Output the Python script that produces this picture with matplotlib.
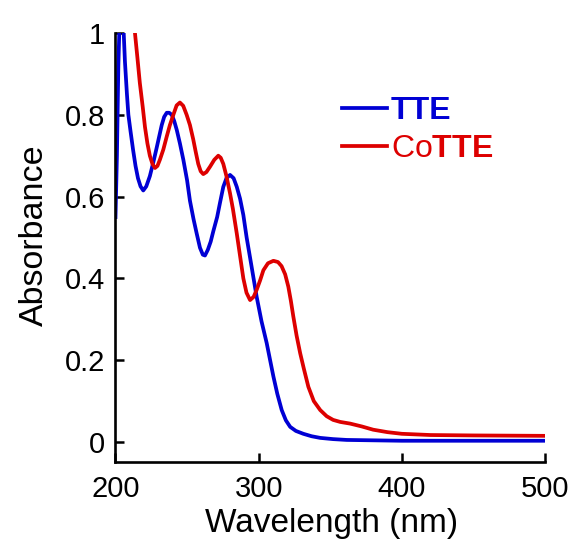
import matplotlib
matplotlib.use("Agg")
import matplotlib.pyplot as plt

plt.rcParams['font.family'] = ['Liberation Sans', 'DejaVu Sans']
plt.rcParams['mathtext.fontset'] = 'custom'
plt.rcParams['mathtext.rm'] = 'Liberation Sans'
plt.rcParams['mathtext.bf'] = 'Liberation Sans:bold'

# TTE spectrum (wavelength nm, absorbance)
tte_wl = [200, 201, 202, 202.8, 205.5, 206.6, 208, 209, 210.5, 212.3, 214, 215.7,
          217.5, 219.4, 221.5, 224, 226.5, 228.8, 232.3, 234, 235.8, 237.5, 239.3,
          241, 242.8, 245, 247.4, 250, 252, 254.5, 256.7, 259, 261, 262.5, 264.5,
          266.5, 268.3, 271, 273, 275.3, 277.5, 280, 282.5, 284.7, 287, 289.3, 291.6,
          295, 298.6, 302, 305.6, 308, 310.3, 313, 316.1, 319, 322, 326, 331.2, 337,
          343, 352, 361.5, 400, 500]
tte_abs = [0.55, 0.70, 0.92, 1.02, 1.02, 0.93, 0.85, 0.80, 0.76, 0.714, 0.675, 0.645,
           0.625, 0.615, 0.625, 0.65, 0.685, 0.72, 0.775, 0.795, 0.805, 0.805, 0.80,
           0.785, 0.763, 0.73, 0.69, 0.64, 0.59, 0.545, 0.51, 0.475, 0.458, 0.456,
           0.47, 0.49, 0.515, 0.55, 0.585, 0.624, 0.645, 0.653, 0.645, 0.624, 0.595,
           0.555, 0.50, 0.43, 0.355, 0.295, 0.242, 0.20, 0.16, 0.118, 0.078, 0.053,
           0.037, 0.027, 0.02, 0.014, 0.01, 0.007, 0.005, 0.003, 0.003]

# CoTTE spectrum
cotte_wl = [211.5, 213.6, 215.3, 217, 219, 220.6, 222.3, 224, 225.8, 227.6, 229.3, 231,
            233.4, 235.8, 238, 240.4, 242.7, 245, 247.3, 249.7, 252, 254.3, 256, 257.8,
            259.5, 261.3, 263.5, 266, 269, 271.8, 273.5, 275.3, 277.5, 280, 282, 284.7,
            287, 289.3, 291.5, 294, 296.5, 298.6, 301, 303.3, 306.5, 310.3, 313.5, 316,
            318.5, 320.7, 322.5, 324.2, 326.5, 329, 331.5, 334.7, 338.5, 343, 347.5,
            352, 357, 363.8, 372, 380, 390, 400, 420, 450, 500]
cotte_abs = [1.05, 1.0, 0.94, 0.878, 0.82, 0.77, 0.73, 0.70, 0.68, 0.67, 0.675, 0.69,
             0.715, 0.747, 0.775, 0.80, 0.823, 0.83, 0.822, 0.80, 0.775, 0.74, 0.71,
             0.68, 0.662, 0.655, 0.66, 0.673, 0.69, 0.70, 0.695, 0.68, 0.65, 0.608,
             0.57, 0.51, 0.455, 0.40, 0.365, 0.347, 0.355, 0.372, 0.395, 0.42, 0.437,
             0.443, 0.44, 0.43, 0.41, 0.38, 0.345, 0.307, 0.26, 0.217, 0.18, 0.135,
             0.10, 0.078, 0.063, 0.054, 0.049, 0.045, 0.038, 0.03, 0.024, 0.02, 0.017,
             0.016, 0.015]

series_labels = ['TTE', 'Co$\\mathbf{TTE}$']
x_ticks = [200, 300, 400, 500]
y_ticks = [0, 0.2, 0.4, 0.6, 0.8, 1.0]
y_tick_labels = ['0', '0.2', '0.4', '0.6', '0.8', '1']

blue = '#0000D4'
red = '#DD0000'

fig = plt.figure(figsize=(5.74, 5.44), dpi=100)
ax = fig.add_axes([0.2012, 0.1507, 0.7483, 0.7886])

l1, = ax.plot(tte_wl, tte_abs, color=blue, lw=2.7, solid_joinstyle='round')
l2, = ax.plot(cotte_wl, cotte_abs, color=red, lw=2.7, solid_joinstyle='round')

ax.set_xlim(200, 500)
ax.set_ylim(-0.049, 1.0)
ax.set_xticks(x_ticks)
ax.set_yticks(y_ticks)
ax.set_yticklabels(y_tick_labels)

for s in ['top', 'right']:
    ax.spines[s].set_visible(False)
for s in ['left', 'bottom']:
    ax.spines[s].set_linewidth(1.9)

ax.tick_params(axis='both', direction='in', length=6.5, width=1.8, labelsize=21)
ax.tick_params(axis='x', pad=9)
ax.tick_params(axis='y', pad=7.5)

ax.set_xlabel('Wavelength (nm)', fontsize=24)
ax.set_ylabel('Absorbance', fontsize=24.5)
ax.xaxis.set_label_coords(0.503, -0.107)
ax.yaxis.set_label_coords(-0.1525, 0.529)

leg = ax.legend([l1, l2], series_labels, loc='upper left',
                bbox_to_anchor=(0.527, 0.853), frameon=False, fontsize=23,
                handlelength=1.41, handletextpad=0.12, labelspacing=0.25,
                borderpad=0, borderaxespad=0, labelcolor='linecolor')
leg.get_texts()[0].set_fontweight('bold')
for h in leg.legend_handles:
    h.set_linewidth(2.7)

fig.savefig('out.png', dpi=100)
